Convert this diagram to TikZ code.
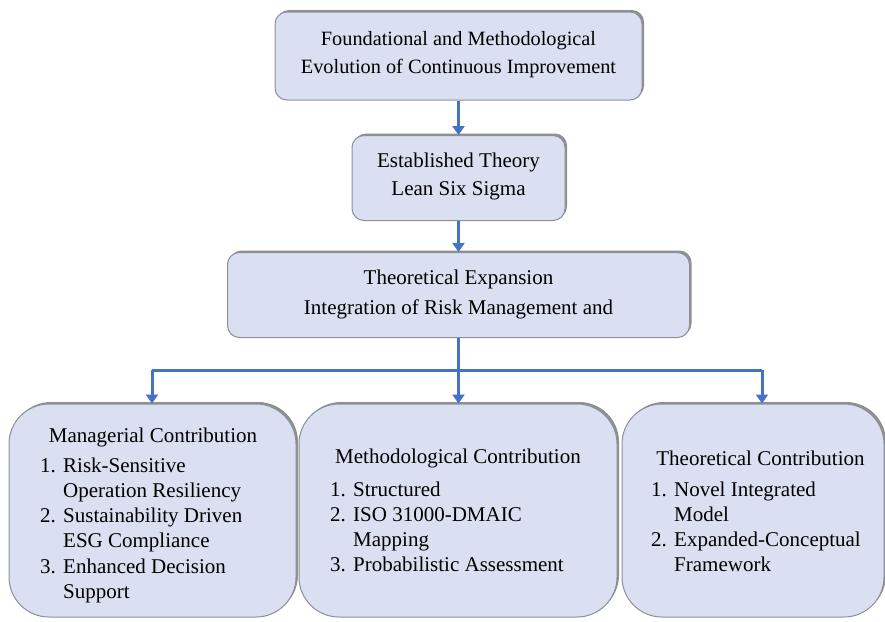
\documentclass[tikz,border=0pt]{standalone}
\usepackage{fontspec}
\setmainfont{Liberation Serif}
\usetikzlibrary{arrows.meta,shadows}
\definecolor{boxfill}{HTML}{DAE0F1}
\definecolor{boxdraw}{HTML}{8C9099}
\definecolor{arrowblue}{HTML}{4472C4}
\newcommand\itemno[1]{\makebox[23pt][l]{#1}}
\tikzset{
  panel/.style={draw=boxdraw, line width=1pt, fill=boxfill,
    drop shadow={shadow xshift=2pt, shadow yshift=2pt, fill=black!55, opacity=0.8},
    inner sep=0pt},
  toppanel/.style={panel, rounded corners=12pt},
  lowpanel/.style={panel, rounded corners=40pt},
  boxtext/.style={inner sep=0pt, align=center},
  flow/.style={draw=arrowblue, line width=3pt},
  flowtip/.style={flow, -{Triangle[width=12pt,length=9pt]}},
  title/.style={font=\fontsize{21}{25}\selectfont, inner sep=0pt},
  items/.style={font=\fontsize{21}{25.3}\selectfont, inner sep=0pt, anchor=base west, align=left}
}
\begin{document}
\begin{tikzpicture}[x=1pt,y=-1pt]
\useasboundingbox (0,0) rectangle (885,621);
\node[toppanel, minimum width=367pt, minimum height=88pt] (b1) at (458.5,56) {};
\node[toppanel, minimum width=213pt, minimum height=85pt] (b2) at (458.5,178) {};
\node[toppanel, minimum width=462pt, minimum height=85pt] (b3) at (458.5,295) {};
\node[lowpanel, minimum width=287pt, minimum height=213pt] (b4) at (152.5,510.5) {};
\node[lowpanel, minimum width=318pt, minimum height=213pt] (b5) at (458,510.5) {};
\node[lowpanel, minimum width=262pt, minimum height=213pt] (b6) at (753,510.5) {};

\node[boxtext, font=\fontsize{20.3}{28.5}\selectfont] (x1) at (458.5,54.5)
  {Foundational and Methodological\\Evolution of Continuous Improvement};
\node[boxtext, font=\fontsize{21}{28}\selectfont] (x2) at (458.5,176)
  {Established Theory\\Lean Six Sigma};
\node[boxtext, font=\fontsize{21}{30}\selectfont] (x3) at (458.5,294)
  {Theoretical Expansion\\Integration of Risk Management and};

\coordinate (j1) at (152,370);
\coordinate (j2) at (b3.south |- j1);
\coordinate (j3) at (762,370);
\draw[flowtip] (b1.south) -- (b2.north);
\draw[flowtip] (b2.south) -- (b3.north);
\draw[flow] (b3.south) -- (j2);
\draw[flow] (j1) -- (j3);
\draw[flowtip] (j1) -- (j1 |- b4.north);
\draw[flowtip] (j2) -- (j2 |- b5.north);
\draw[flowtip] (j3) -- (j3 |- b6.north);

\node[title] (t4) at (153,437) {Managerial Contribution};
\node[items] (l4) at (40,472) {\begin{tabular}[t]{@{}l@{}l@{}}
\itemno{1.} & Risk-Sensitive\\
   & Operation Resiliency\\
\itemno{2.} & Sustainability Driven\\
   & ESG Compliance\\
\itemno{3.} & Enhanced Decision\\
   & Support
\end{tabular}};
\node[title] (t5) at (458,458) {Methodological Contribution};
\node[items] (l5) at (330,496) {\begin{tabular}[t]{@{}l@{}l@{}}
\itemno{1.} & Structured\\
\itemno{2.} & ISO 31000-DMAIC\\
   & Mapping\\
\itemno{3.} & Probabilistic Assessment
\end{tabular}};
\node[title] (t6) at (760.5,458) {Theoretical Contribution};
\node[items] (l6) at (651,496) {\begin{tabular}[t]{@{}l@{}l@{}}
\itemno{1.} & Novel Integrated\\
   & Model\\
\itemno{2.} & Expanded-Conceptual\\
   & Framework
\end{tabular}};
\end{tikzpicture}
\end{document}
